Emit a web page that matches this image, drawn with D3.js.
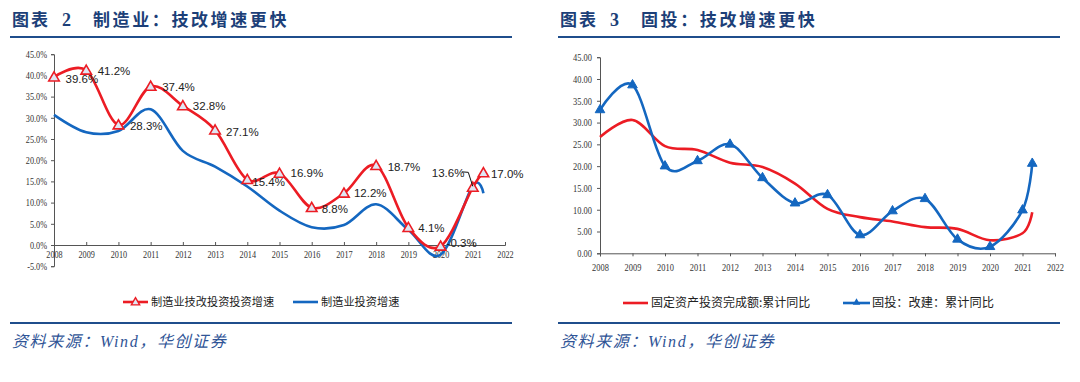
<!DOCTYPE html>
<html><head><meta charset="utf-8">
<script src="https://cdn.jsdelivr.net/npm/d3@7/dist/d3.min.js"></script>
<style>
body{margin:0;background:#fff;}
svg{display:block;}
</style></head>
<body><svg id="c" width="1080" height="382"></svg>
<script>
// ---------- DATA ----------
const yearTicks = [2008,2009,2010,2011,2012,2013,2014,2015,2016,2017,2018,2019,2020,2021,2022];
const leftYTicks = [-5,0,5,10,15,20,25,30,35,40,45];
const rightYTicks = [0,5,10,15,20,25,30,35,40,45];

// Chart 2 (left)
const leftDates = [2008,2009,2010,2011,2012,2013,2014,2015,2016,2017,2018,2019,2020,2021,2021.33];
const techUpgradeMfg = [39.6,41.2,28.3,37.4,32.8,27.1,15.4,16.9,8.8,12.2,18.7,4.1,-0.3,13.6,17.0];
const mfgInvest = [30.7,26.6,26.9,32.0,22.2,18.5,13.8,8.1,4.2,4.7,9.6,3.6,-2.3,14.0,12.2];
const leftLabels = ["39.6%","41.2%","28.3%","37.4%","32.8%","27.1%","15.4%","16.9%","8.8%","12.2%","18.7%","4.1%","-0.3%","13.6%","17.0%"];

// Chart 3 (right)
const rightDates = [2008,2009,2010,2011,2012,2013,2014,2015,2016,2017,2018,2019,2020,2021,2021.3];
const fixedAssetInvest = [26.7,30.6,24.6,23.7,20.8,19.8,16.0,10.2,8.3,7.3,6.0,5.6,3.0,4.6,9.4];
const renovationInvest = [32.9,38.6,20.0,21.2,25.0,17.3,11.5,13.4,4.2,9.7,12.5,3.2,1.5,9.9,20.6];

const leftSeriesNames = ["制造业技改投资投资增速","制造业投资增速"];
const rightSeriesNames = ["固定资产投资完成额:累计同比","固投：改建：累计同比"];

// ---------- STYLE / LAYOUT ----------
const RED = "#ec1c24", BLUE = "#1467c0", NAVY = "#1f4e8c", TITLE = "#1c3f78";
const svg = d3.select("#c");
const curve = d3.curveCardinal.tension(0);
// label offsets (layout only) relative to each point
const leftLabelOffsets = [[11.5,2],[11.5,0.5],[11.5,1],[11.5,1],[10,0],[11,1.5],[5,2],[11,0],[10,1.5],[10,0],[11.5,1],[10,0.5],[6,-3],[-41,-14],[7.5,1]];

function condense(sel, f){
  sel.each(function(){
    const len = this.getComputedTextLength();
    d3.select(this).attr("textLength", len*f).attr("lengthAdjust","spacingAndGlyphs");
  });
}

function header(x0, x1, num, rest){
  const g = svg.append("g");
  const f = "'Liberation Serif','Noto Sans CJK SC',serif";
  g.append("text").attr("x", x0).attr("y", 26).attr("font-family", "'Noto Sans CJK SC'").attr("font-weight",700)
    .attr("font-size",17).attr("fill",TITLE).attr("letter-spacing",2).text("图表");
  g.append("text").attr("x", x0+50).attr("y", 26).attr("font-family", f).attr("font-weight",700)
    .attr("font-size",18).attr("fill",TITLE).text(num);
  g.append("text").attr("x", x0+81).attr("y", 26).attr("font-family", "'Noto Sans CJK SC'").attr("font-weight",700)
    .attr("font-size",17).attr("fill",TITLE).attr("letter-spacing",2.6).text(rest);
  g.append("line").attr("x1",x0-2).attr("x2",x1).attr("y1",37).attr("y2",37).attr("stroke",NAVY).attr("stroke-width",2);
  g.append("line").attr("x1",x0-2).attr("x2",x1).attr("y1",323).attr("y2",323).attr("stroke",NAVY).attr("stroke-width",2);
  g.append("text").attr("x", x0).attr("y", 347).attr("font-family", "'Liberation Serif','Noto Sans CJK SC',serif")
    .attr("font-style","italic").attr("font-size",16).attr("fill","#2f5496").attr("letter-spacing",1.6)
    .text("资料来源：Wind，华创证券");
}

// ---------- LEFT CHART ----------
header(12, 512, "2", "制造业：技改增速更快");
{
  const x = d3.scaleLinear().domain([2008,2022]).range([54,505]);
  const y = d3.scaleLinear().domain([-5,45]).range([266.2,54.2]);
  const g = svg.append("g");
  // y axis
  const ya = g.append("g").attr("transform","translate(54,0)")
    .call(d3.axisLeft(y).tickValues(leftYTicks).tickSize(3).tickPadding(4).tickFormat(d=>d.toFixed(1)+"%"));
  ya.select(".domain").attr("stroke","#555");
  ya.selectAll(".tick line").attr("stroke","#555");
  ya.selectAll("text").attr("font-family","'Liberation Serif',serif").attr("font-size",10.5).attr("fill","#333");
  condense(ya.selectAll("text"), 0.78);
  // x axis at 0
  const xa = g.append("g").attr("transform",`translate(0,${y(0)})`)
    .call(d3.axisBottom(x).tickValues(yearTicks).tickSize(-3).tickPadding(6).tickFormat(d3.format("d")));
  xa.select(".domain").attr("stroke","#555");
  xa.selectAll(".tick line").attr("stroke","#555");
  xa.selectAll("text").attr("font-family","'Liberation Serif',serif").attr("font-size",10.5).attr("fill","#333");
  condense(xa.selectAll("text"), 0.78);

  const lineB = d3.line().x((d,i)=>x(leftDates[i])).y(d=>y(d)).curve(curve);
  g.append("path").attr("d", lineB(mfgInvest)).attr("fill","none").attr("stroke",BLUE).attr("stroke-width",2.6);
  g.append("path").attr("d", lineB(techUpgradeMfg)).attr("fill","none").attr("stroke",RED).attr("stroke-width",2.6);
  const tri = d3.symbol().type(d3.symbolTriangle).size(48);
  g.selectAll(".mk").data(techUpgradeMfg).join("path")
    .attr("transform",(d,i)=>`translate(${x(leftDates[i])},${y(d)+0.8})`)
    .attr("d",tri).attr("fill","#dfe6f3").attr("stroke",RED).attr("stroke-width",1.6);
  g.selectAll(".lb").data(techUpgradeMfg).join("text")
    .attr("x",(d,i)=>x(leftDates[i])+leftLabelOffsets[i][0])
    .attr("y",(d,i)=>y(d)+leftLabelOffsets[i][1])
    .attr("dy","0.35em")
    .attr("font-family","'Liberation Sans Narrow','Liberation Sans',Arial,sans-serif")
    .attr("font-size",11.5).attr("fill","#222")
    .text((d,i)=>leftLabels[i]);
  // leader line for 13.6%
  const i13 = 13;
  const px = x(leftDates[i13]), py = y(techUpgradeMfg[i13]);
  g.append("path").attr("d",`M${px-11},${py-15.5}L${px-4.5},${py-15}L${px},${py-1}`)
    .attr("fill","none").attr("stroke","#111").attr("stroke-width",1);

  // legend
  const lg = svg.append("g");
  lg.append("line").attr("x1",123).attr("x2",148).attr("y1",302).attr("y2",302).attr("stroke",RED).attr("stroke-width",2.6);
  lg.append("path").attr("transform","translate(135.5,302.5)").attr("d",d3.symbol().type(d3.symbolTriangle).size(30))
    .attr("fill","#dfe6f3").attr("stroke",RED).attr("stroke-width",1.4);
  lg.append("text").attr("x",151).attr("y",302).attr("dy","0.36em").attr("font-family","'Noto Sans CJK SC'")
    .attr("font-size",11.2).attr("fill","#222").text(leftSeriesNames[0]);
  lg.append("line").attr("x1",293).attr("x2",318).attr("y1",302).attr("y2",302).attr("stroke",BLUE).attr("stroke-width",2.6);
  lg.append("text").attr("x",321).attr("y",302).attr("dy","0.36em").attr("font-family","'Noto Sans CJK SC'")
    .attr("font-size",11.2).attr("fill","#222").text(leftSeriesNames[1]);
}

// ---------- RIGHT CHART ----------
header(560, 1060, "3", "固投：技改增速更快");
{
  const x = d3.scaleLinear().domain([2008,2022]).range([600,1055]);
  const y = d3.scaleLinear().domain([0,45]).range([253.3,57.2]);
  const g = svg.append("g");
  const ya = g.append("g").attr("transform","translate(600,0)")
    .call(d3.axisLeft(y).tickValues(rightYTicks).tickSize(3).tickPadding(5).tickFormat(d=>d.toFixed(2)));
  ya.select(".domain").attr("stroke","#555");
  ya.selectAll(".tick line").attr("stroke","#555");
  ya.selectAll("text").attr("font-family","'Liberation Serif',serif").attr("font-size",10.5).attr("fill","#333");
  condense(ya.selectAll("text"), 0.8);
  const xa = g.append("g").attr("transform",`translate(0,${y(0)})`)
    .call(d3.axisBottom(x).tickValues(yearTicks).tickSize(3).tickPadding(7).tickFormat(d3.format("d")));
  xa.select(".domain").attr("stroke","#555");
  xa.selectAll(".tick line").attr("stroke","#555");
  xa.selectAll("text").attr("font-family","'Liberation Serif',serif").attr("font-size",10.5).attr("fill","#333");
  condense(xa.selectAll("text"), 0.8);

  const line = d3.line().x((d,i)=>x(rightDates[i])).y(d=>y(d)).curve(curve);
  g.append("path").attr("d", line(fixedAssetInvest)).attr("fill","none").attr("stroke",RED).attr("stroke-width",2.6);
  g.append("path").attr("d", line(renovationInvest)).attr("fill","none").attr("stroke",BLUE).attr("stroke-width",2.6);
  const tri = d3.symbol().type(d3.symbolTriangle).size(40);
  g.selectAll(".mk").data(renovationInvest).join("path")
    .attr("transform",(d,i)=>`translate(${x(rightDates[i])},${y(d)})`)
    .attr("d",tri).attr("fill",BLUE).attr("stroke",BLUE).attr("stroke-width",1);

  const lg = svg.append("g");
  lg.append("line").attr("x1",623).attr("x2",648).attr("y1",303).attr("y2",303).attr("stroke",RED).attr("stroke-width",2.6);
  lg.append("text").attr("x",651).attr("y",303).attr("dy","0.36em").attr("font-family","'Noto Sans CJK SC'")
    .attr("font-size",12).attr("fill","#222").text(rightSeriesNames[0]);
  lg.append("line").attr("x1",843).attr("x2",870).attr("y1",303).attr("y2",303).attr("stroke",BLUE).attr("stroke-width",2.6);
  lg.append("path").attr("transform","translate(856.5,302.5)").attr("d",d3.symbol().type(d3.symbolTriangle).size(24))
    .attr("fill",BLUE);
  lg.append("text").attr("x",872).attr("y",303).attr("dy","0.36em").attr("font-family","'Noto Sans CJK SC'")
    .attr("font-size",12.2).attr("fill","#222").text(rightSeriesNames[1]);
}
</script></body></html>
